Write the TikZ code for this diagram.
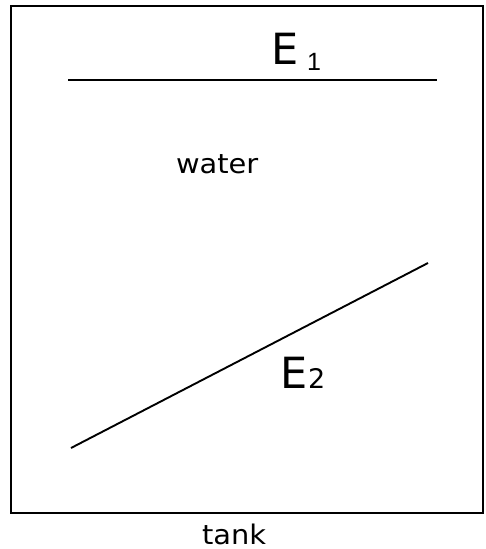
\documentclass[tikz,border=0pt]{standalone}
\usepackage{fontspec}
\setmainfont{DejaVu Sans}
\newfontfamily\onefont{Liberation Sans}
\begin{document}
\begin{tikzpicture}[x=1pt,y=-1pt,
  ln/.style={line width=1.9pt, black},
  lbl/.style={inner sep=0pt, outer sep=0pt, anchor=base west},
  small/.style={lbl, font=\fontsize{27}{27}\selectfont, xscale=1.07},
  big/.style={lbl, font=\fontsize{43}{43}\selectfont}]
\useasboundingbox (0,0) rectangle (485,549);
\coordinate (tl) at (11,6);
\coordinate (br) at (483,513);
\draw[ln] (tl) rectangle (br);
\coordinate (e1a) at (68,80);
\coordinate (e1b) at (437,80);
\draw[ln] (e1a) -- (e1b);
\coordinate (e2a) at (71,448);
\coordinate (e2b) at (428,263);
\draw[ln] (e2a) -- (e2b);
\node[big] (E1) at (271,64) {E\hspace{9pt}\raisebox{-6pt}{\onefont\fontsize{25}{25}\selectfont 1}};
\node[big] (E2) at (280,388) {E\hspace{1pt}\fontsize{27}{27}\selectfont 2};
\node[small] (water) at (176,173) {water};
\node[small] (tank) at (202,544) {tank};
\end{tikzpicture}
\end{document}
